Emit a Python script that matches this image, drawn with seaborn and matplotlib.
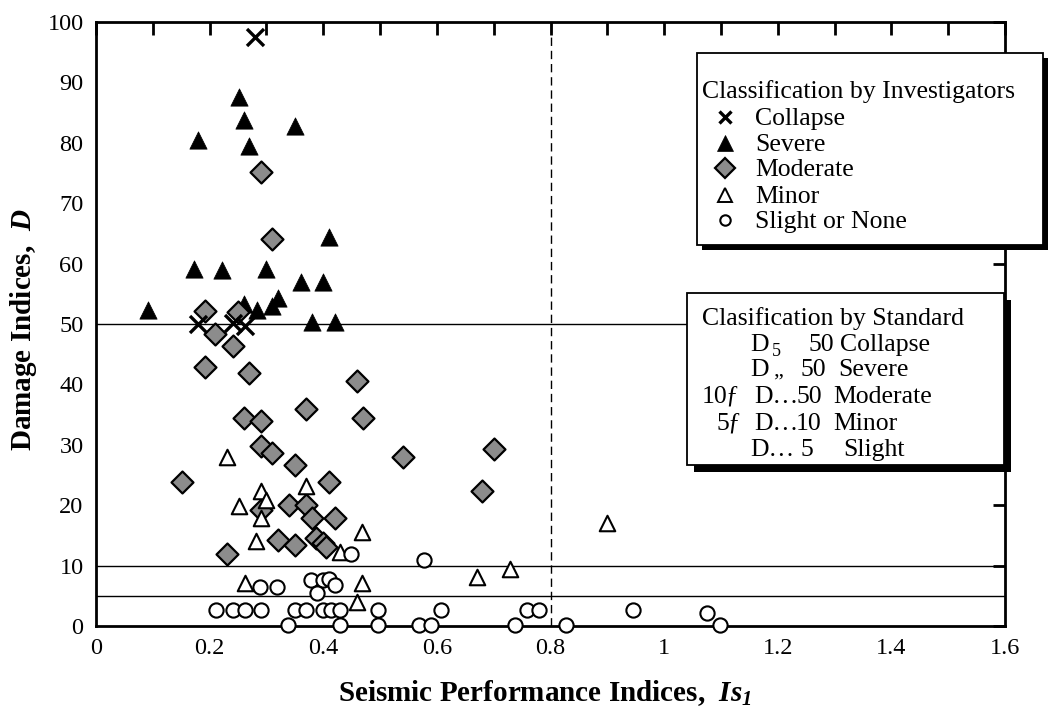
import matplotlib
matplotlib.use("Agg")
import matplotlib.pyplot as plt
import seaborn as sns
import pandas as pd
import numpy as np
from matplotlib.patches import Rectangle
from matplotlib.lines import Line2D

# ---------------- data ----------------
collapse_x = [0.28, 0.18, 0.242, 0.262]
collapse_y = [97.5, 50.0, 50.1, 49.7]

severe_x = [0.251, 0.261, 0.350, 0.180, 0.270, 0.410, 0.172, 0.221, 0.300, 0.360,
            0.400, 0.321, 0.310, 0.283, 0.260, 0.091, 0.380, 0.420]
severe_y = [87.6, 83.7, 82.7, 80.5, 79.4, 64.4, 59.1, 58.9, 59.1, 57.0,
            57.0, 54.3, 52.9, 52.3, 53.3, 52.4, 50.4, 50.4]

moderate_x = [0.291, 0.310, 0.191, 0.250, 0.210, 0.241, 0.191, 0.270, 0.460, 0.370,
              0.470, 0.260, 0.291, 0.290, 0.310, 0.540, 0.700, 0.350, 0.680, 0.410,
              0.151, 0.340, 0.370, 0.291, 0.380, 0.420, 0.321, 0.350, 0.388, 0.399,
              0.405, 0.230]
moderate_y = [75.1, 64.0, 52.2, 52.0, 48.3, 46.4, 42.9, 41.9, 40.6, 36.0,
              34.4, 34.4, 34.0, 29.8, 28.7, 27.9, 29.3, 26.7, 22.4, 23.9,
              23.9, 20.0, 20.0, 19.2, 17.9, 17.9, 14.3, 13.4, 14.5, 13.7,
              13.1, 12.0]

minor_x = [0.231, 0.370, 0.290, 0.300, 0.251, 0.290, 0.469, 0.281, 0.429, 0.263,
           0.469, 0.460, 0.899, 0.729, 0.670]
minor_y = [28.0, 23.1, 22.4, 20.9, 19.9, 17.8, 15.6, 14.0, 12.2, 7.1,
           7.1, 4.0, 17.0, 9.5, 8.1]

slight_x = [0.449, 0.578, 0.288, 0.319, 0.379, 0.400, 0.411, 0.420, 0.389,
            0.212, 0.241, 0.262, 0.291, 0.350, 0.369, 0.400, 0.414, 0.429, 0.497,
            0.608, 0.758, 0.779, 0.946, 1.076,
            0.338, 0.429, 0.497, 0.569, 0.589, 0.738, 0.827, 1.098]
slight_y = [11.9, 11.0, 6.5, 6.5, 7.6, 7.6, 7.8, 6.8, 5.5,
            2.6, 2.6, 2.6, 2.6, 2.6, 2.6, 2.6, 2.6, 2.6, 2.6,
            2.6, 2.6, 2.6, 2.6, 2.1,
            0.2, 0.2, 0.2, 0.2, 0.2, 0.2, 0.2, 0.2]

classes = ["Collapse", "Severe", "Moderate", "Minor", "Slight or None"]
hlines_y = [50, 10, 5]
vline_x = 0.8
xtick_vals = [0, 0.2, 0.4, 0.6, 0.8, 1.0, 1.2, 1.4, 1.6]
xtick_labels = ["0", "0.2", "0.4", "0.6", "0.8", "1", "1.2", "1.4", "1.6"]
ytick_vals = list(range(0, 101, 10))

legend1_title = "Classification by Investigators"
legend2_title = "Clasification by Standard"
LF = 18.5
legend2_rows = [
    [("D", 750, LF, 0), ("5", 772, 13, 5), ("50", 808, LF, 0), ("Collapse", 840, LF, 0)],
    [("D", 750, LF, 0), ("\u201e", 773, 16, 0), ("50", 800, LF, 0), ("Severe", 838, LF, 0)],
    [("10", 702, LF, 0), ("\u0192", 726, LF, 0), ("D\u2026", 754, LF, 0), ("50", 796, LF, 0), ("Moderate", 833, LF, 0)],
    [("5", 716, LF, 0), ("\u0192", 728, LF, 0), ("D\u2026", 754, LF, 0), ("10", 796, LF, 0), ("Minor", 833, LF, 0)],
    [("D\u2026", 750, LF, 0), ("5", 801, LF, 0), ("Slight", 843, LF, 0)],
]

df = pd.concat([
    pd.DataFrame({"Is1": collapse_x, "D": collapse_y, "cls": "Collapse"}),
    pd.DataFrame({"Is1": severe_x, "D": severe_y, "cls": "Severe"}),
    pd.DataFrame({"Is1": moderate_x, "D": moderate_y, "cls": "Moderate"}),
    pd.DataFrame({"Is1": minor_x, "D": minor_y, "cls": "Minor"}),
    pd.DataFrame({"Is1": slight_x, "D": slight_y, "cls": "Slight or None"}),
], ignore_index=True)

# ---------------- style ----------------
sns.set_theme(style="white")
plt.rcParams['font.family'] = ['Liberation Serif', 'DejaVu Serif']
plt.rcParams['mathtext.fontset'] = 'custom'
plt.rcParams['mathtext.rm'] = 'Liberation Serif'
plt.rcParams['mathtext.it'] = 'Liberation Serif:italic'
plt.rcParams['mathtext.bf'] = 'Liberation Serif:bold'
plt.rcParams['mathtext.bfit'] = 'Liberation Serif:bold:italic'

W, H = 1054, 708
fig = plt.figure(figsize=(W / 100, H / 100), dpi=100)
fig.patch.set_facecolor("white")
L, R, T, B = 96, 1005, 22, 626
ax = fig.add_axes([L / W, 1 - B / H, (R - L) / W, (B - T) / H])
ax.set_facecolor("white")

def fx(x):
    return x / W

def fy(y):
    return 1 - y / H

GRAY = "#8c8c8c"
styles = {
    "Severe":        dict(marker="^", s=155, color="black", edgecolor="black", linewidth=0.5, zorder=4),
    "Moderate":      dict(marker="D", s=125, color=GRAY, edgecolor="black", linewidth=1.6, zorder=5),
    "Collapse":      dict(marker="x", s=150, color="black", linewidth=2.4, zorder=6),
    "Minor":         dict(marker="^", s=125, color="white", edgecolor="black", linewidth=1.5, zorder=7),
    "Slight or None": dict(marker="o", s=105, color="white", edgecolor="black", linewidth=1.5, zorder=8),
}
for c in ["Severe", "Moderate", "Collapse", "Minor", "Slight or None"]:
    sns.scatterplot(data=df[df["cls"] == c], x="Is1", y="D", ax=ax, legend=False,
                    clip_on=False, **styles[c])

for yv in hlines_y:
    ax.axhline(yv, color="black", lw=1.0, zorder=1)
ax.axvline(vline_x, color="black", lw=1.0, linestyle=(0, (6, 3.5)), zorder=1)

ax.set_xlim(0, 1.6)
ax.set_ylim(0, 100)
ax.set_xticks(xtick_vals)
ax.set_xticklabels(xtick_labels)
ax.set_xticks(np.arange(0.1, 1.6, 0.2), minor=True)
ax.set_yticks(ytick_vals)
ax.tick_params(which="both", direction="in", top=True, right=True,
               length=9, width=2, color="black", labelsize=17.5, labelcolor="black")
ax.tick_params(axis="x", which="major", pad=9)
ax.tick_params(axis="y", which="major", pad=9)
for sp in ax.spines.values():
    sp.set_linewidth(2)
    sp.set_color("black")
    sp.set_visible(True)

ax.set_xlabel(r"Seismic Performance Indices,  $\mathbfit{Is}_{\mathbfit{1}}$",
              fontsize=21, fontweight="bold", color="black")
ax.set_ylabel(r"Damage Indices,  $\mathbfit{D}$", fontsize=21, fontweight="bold", color="black")
ax.xaxis.set_label_coords((545 - L) / (R - L), (B - 693) / (B - T))
ax.xaxis.label.set_va("center")
ax.yaxis.set_label_coords((24 - L) / (R - L), (B - 330) / (B - T))
ax.yaxis.label.set_va("center")

# ---------------- legend boxes ----------------
def box(x0, y0, x1, y1, sh):
    shadow = Rectangle((fx(x0 + sh), fy(y1 + sh)), (x1 - x0) / W, (y1 - y0) / H,
                       transform=fig.transFigure, facecolor="black", edgecolor="black",
                       lw=0, zorder=10)
    frame = Rectangle((fx(x0), fy(y1)), (x1 - x0) / W, (y1 - y0) / H,
                      transform=fig.transFigure, facecolor="white", edgecolor="black",
                      lw=1.3, zorder=11)
    fig.add_artist(shadow)
    fig.add_artist(frame)

# Legend 1: classification by investigators
box(697, 53, 1043, 245, 5)
fig.text(fx(702), fy(98), legend1_title, fontsize=LF,
         va="baseline", ha="left", color="black", zorder=12)
leg1_y = [117, 143, 168, 195, 220]
leg1_marker = {
    "Collapse": dict(marker="x", ms=9, mew=2.4, color="black", mfc="black", mec="black"),
    "Severe": dict(marker="^", ms=11, mew=0.5, color="black", mfc="black", mec="black"),
    "Moderate": dict(marker="D", ms=10, mew=1.6, color="black", mfc=GRAY, mec="black"),
    "Minor": dict(marker="^", ms=9.5, mew=1.4, color="black", mfc="white", mec="black"),
    "Slight or None": dict(marker="o", ms=7.5, mew=1.5, color="black", mfc="white", mec="black"),
}
for c, yy in zip(classes, leg1_y):
    fig.add_artist(Line2D([fx(725)], [fy(yy)], transform=fig.transFigure,
                          linestyle="none", zorder=12, **leg1_marker[c]))
    fig.text(fx(755), fy(yy + 8), c, fontsize=LF, va="baseline", ha="left",
             color="black", zorder=12)

# Legend 2: classification by standard
box(687, 293, 1004, 465, 7)
fig.text(fx(702), fy(325), legend2_title, fontsize=LF, va="baseline", ha="left",
         color="black", zorder=12)
leg2_y = [343, 368, 395, 422, 448]
for row, yy in zip(legend2_rows, leg2_y):
    for txt, xx, fs, dy in row:
        fig.text(fx(xx), fy(yy + 8 + dy), txt, fontsize=fs, va="baseline", ha="left",
                 color="black", zorder=12)

fig.savefig("out.png", dpi=100, facecolor="white")
